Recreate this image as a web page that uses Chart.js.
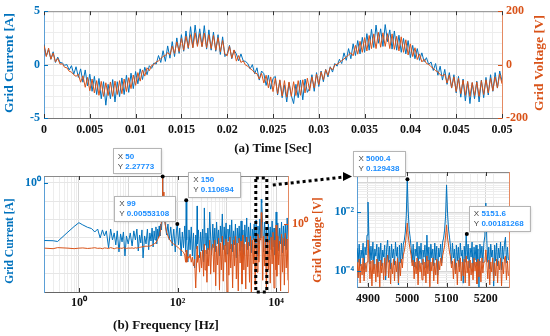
<!DOCTYPE html>
<html>
<head>
<meta charset="utf-8">
<script src="https://cdn.jsdelivr.net/npm/chart.js@4.4.0/dist/chart.umd.min.js"></script>
<style>
  html, body { margin: 0; padding: 0; background: #fff; }
  #wrap { position: relative; width: 550px; height: 336px; }
  #wrap canvas { position: absolute; left: 0; top: 0; }
</style>
</head>
<body>
<div id="wrap">
  <canvas id="timeChart" width="550" height="336"></canvas>
  <canvas id="specChart" width="550" height="336"></canvas>
  <canvas id="zoomChart" width="550" height="336"></canvas>
</div>
<script>
// (a) time domain, sampled every 0.25 ms from t = 0
const timeStepSec = 0.00025;
const gridCurrentA = [
  1.9, 0.8, 1.4, 0.5, 1.2, 0.2, 0.7, 0.2, 0.15, -0.06,
  0.0, -0.5, -0.1, -0.9, -0.2, -1.2, -0.4, -1.65, -0.5, -2.0,
  -0.9, -2.5, -1.1, -2.8, -1.3, -3.2, -1.6, -3.8, -1.85, -3.2,
  -1.4, -3.5, -1.6, -3.0, -1.25, -2.8, -1.0, -2.6, -0.8, -2.25,
  -0.65, -1.8, -0.4, -1.4, -0.25, -0.95, -0.1, -0.35, 0.15, 0.05,
  0.85, 0.2, 1.3, 0.3, 1.75, 0.6, 2.15, 0.75, 2.5, 1.05,
  2.8, 1.25, 3.15, 1.5, 3.55, 1.6, 3.7, 1.85, 3.35, 1.7,
  3.65, 1.45, 3.25, 1.35, 3.05, 1.25, 2.8, 0.95, 2.6, 0.75,
  1.0, 1.8, 0.55, 1.35, 1.0, 0.35, 1.0, 0.35, 0.3, 0.1,
  -0.4, 0.0, -0.85, -0.3, -1.45, -0.6, -0.85, -1.95, -1.0, -2.3,
  -1.3, -1.1, -2.85, -1.5, -3.1, -1.9, -3.5, -1.7, -2.9, -3.65,
  -1.85, -3.1, -1.45, -3.3, -1.35, -2.6, -2.2, -0.95, -2.5, -0.75,
  -2.05, -0.6, -1.6, -0.45, -1.15, -0.2, -0.7, 0.1, -0.15, 0.5,
  0.1, 1.1, 0.4, 1.5, 0.55, 1.95, 0.85, 2.25, 1.0, 2.55,
  1.15, 2.9, 1.35, 3.3, 1.6, 3.7, 2.0, 3.35, 1.7, 3.75,
  2.15, 3.25, 1.45, 3.15, 1.35, 2.75, 1.15, 2.45, 1.0, 2.25,
  0.65, 1.8, 0.55, 1.5, 0.4, 1.1, 0.27, 0.65, 0.0, 0.25,
  -0.55, 0.1, -1.0, -0.15, -1.45, -0.45, -1.85, -0.75, -2.2, -0.95,
  -2.65, -1.1, -3.05, -1.35, -3.4, -1.6, -3.65, -1.7, -3.2, -1.55,
  -3.5, -1.45, -3.1, -1.2, -2.85, -0.95, -2.5, -0.75, -2.2, -0.6,
  -1.55
];
const gridVoltageV = [
  72, 30, 62, 20, 43, 10, 23, 2, 3, -10,
  -12, -25, -28, -38, -44, -36, -66, -42, -85, -48,
  -98, -54, -106, -60, -115, -63, -119, -68, -116, -65,
  -119, -62, -112, -60, -109, -54, -101, -49, -90, -39,
  -78, -30, -62, -20, -43, -12, -23, -3, 0, 10,
  14, 22, 31, 34, 45, 36, 69, 42, 85, 49,
  98, 54, 106, 63, 112, 63, 119, 68, 116, 67,
  118, 63, 112, 60, 109, 54, 101, 48, 90, 39,
  33, 69, 24, 55, 13, 34, 8, 14, -2, -6,
  -15, -21, -31, -34, -54, -33, -69, -40, -87, -46,
  -101, -51, -109, -57, -118, -60, -122, -65, -119, -64,
  -116, -60, -115, -57, -106, -51, -98, -46, -87, -36,
  -75, -27, -57, -19, -40, -10, -20, -1, 1, 8,
  15, 21, 29, 36, 44, 33, 72, 39, 87, 46,
  101, 51, 109, 60, 115, 60, 121, 65, 119, 68,
  116, 60, 115, 57, 106, 51, 104, 46, 93, 36,
  78, 30, 63, 19, 40, 10, 20, 4, 1, -8,
  -14, -23, -27, -38, -42, -36, -69, -39, -87, -46,
  -101, -51, -109, -58, -115, -63, -119, -67, -116, -65,
  -119, -60, -112, -57, -106, -51, -98, -46, -87, -36,
  -72
];

// (b) spectrum, log frequency axis
const specFreqHz = [
  0.2, 0.3, 0.37, 0.6, 0.8, 1.0, 1.2, 1.5, 1.8, 2.1, 2.4, 2.7, 3.0, 3.3, 3.6, 4.0, 4.4, 4.8, 5.2, 5.6,
  6.0, 6.5, 7.0, 7.5, 8.0, 8.6, 9.2, 10,
  11, 12, 13, 14, 15, 16, 17, 18, 19, 20, 21.5, 23, 24.5, 26, 27.5, 29, 30.5, 32, 33.5, 35,
  36.5, 38, 39.5, 41, 42.5, 44, 45.5, 47, 48.5, 49.5, 50, 50.5,
  51, 53, 56, 60, 64, 68, 73, 78, 84, 90, 95, 99, 105, 111, 118, 125, 132, 140, 146, 150,
  154, 162, 171, 180, 190, 200, 211, 222, 234, 246, 250, 254, 266, 280, 294, 308, 323, 338, 350, 362,
  378, 395, 412, 430, 450, 470, 490,
  520, 545, 570, 595, 620, 650, 680, 710, 740, 775, 810, 845, 885, 925, 965, 1010, 1055, 1100, 1150, 1200,
  1255, 1310, 1370, 1430, 1495, 1560, 1630, 1705, 1780, 1860, 1945, 2030, 2120, 2215, 2315, 2420, 2530, 2645, 2760, 2885,
  3015, 3150, 3290, 3440, 3595, 3755, 3925, 4100, 4285, 4480, 4680, 4890, 5000, 5110, 5340, 5580, 5830, 6090, 6365, 6650,
  6950, 7260, 7590, 7930, 8285, 8660, 9050, 9455, 9880, 10000, 10325, 10790, 11275, 11780, 12310, 12865, 13445, 14050, 14680, 15340,
  16030, 16750, 17400
];
const specCurrentA = [
  6.8e-4, 6.6e-4, 6.0e-4, 2.0e-3, 4.0e-3, 6.5e-3, 4.9e-3, 3.6e-3, 3.1e-3, 2.0e-3, 2.9e-3, 9.4e-4, 2.6e-3, 1.21e-3, 2.3e-3, 2.7e-4, 2.9e-3, 7.3e-4, 1.77e-3, 3.9e-4,
  2.3e-3, 1.6e-4, 1.56e-3, 5.7e-4, 2.0e-3, 9.6e-5, 1.21e-3, 4.4e-4,
  1.77e-3, 3.4e-4, 2.3e-3, 7.3e-4, 2.9e-3, 1.8e-4, 1.37e-3, 5.0e-4, 2.6e-3, 7.5e-5, 1.21e-3, 4.4e-4, 2.9e-3, 2.1e-4, 1.77e-3, 6.4e-4, 3.3e-3, 3.0e-4, 2.3e-3, 7.3e-4,
  3.8e-3, 4.4e-4, 2.9e-3, 9.4e-4, 4.3e-3, 1.21e-3, 5.5e-3, 2.6e-3, 9.2e-3, 0.042, 2.27773, 0.061,
  0.042, 0.0152, 7.1e-3, 1.37e-3, 5.5e-3, 7.3e-4, 3.8e-3, 3.4e-4, 2.9e-3, 1.6e-4, 2.3e-3, 0.00553108, 3.9e-4, 3.3e-3, 9.6e-5, 2.0e-3, 2.7e-4, 4.3e-3, 1.6e-4, 0.110694,
  7.3e-4, 4.5e-5, 2.6e-3, 2.1e-4, 3.8e-3, 9.6e-5, 1.77e-3, 2.1e-5, 1.37e-3, 2.3e-4, 0.054, 4.4e-4, 2.6e-3, 7.5e-5, 2.0e-3, 1.8e-4, 2.9e-3, 4.5e-5, 0.042, 3.9e-4,
  1.77e-3, 1.24e-4, 3.3e-3, 2.1e-4, 0.0252, 9.4e-4, 1.1e-4,
  5.5e-3, 2.7e-4, 3.3e-3, 1.6e-4, 7.1e-3, 4.4e-4, 2.6e-3, 9.6e-5, 4.3e-3, 5.7e-4, 0.0196, 2.1e-4, 3.8e-3, 3.4e-4, 6.3e-3, 1.24e-4, 2.9e-3, 6.4e-4, 4.9e-3, 2.3e-4,
  9.2e-3, 1.6e-4, 2.3e-3, 3.9e-4, 5.5e-3, 7.5e-5, 3.3e-3, 5.0e-4, 4.3e-3, 1.8e-4, 8.1e-3, 3.0e-4, 2.6e-3, 1.1e-4, 4.9e-3, 5.7e-4, 0.0118, 2.1e-4, 3.8e-3, 3.4e-4,
  6.3e-3, 1.4e-4, 2.9e-3, 7.3e-4, 5.5e-3, 2.3e-4, 9.2e-3, 9.6e-5, 4.3e-3, 4.4e-4, 0.0104, 9.4e-4, 0.129, 0.08, 4.3e-3, 1.6e-4, 7.1e-3, 3.4e-4, 2.9e-3, 1.24e-4,
  5.5e-3, 5.0e-4, 3.8e-3, 2.1e-4, 8.1e-3, 3.0e-4, 3.3e-3, 1.1e-4, 4.9e-3, 0.0252, 6.4e-4, 6.3e-3, 1.8e-4, 3.3e-3, 4.4e-4, 7.1e-3, 1.4e-4, 4.3e-3, 3.4e-4, 5.5e-3,
  2.1e-4, 0.0118, 7.3e-4
];
const specVoltageV = [
  0.1, 0.095, 0.105, 0.1, 0.095, 0.1, 0.102, 0.097, 0.1, 0.104, 0.098, 0.1, 0.095, 0.102, 0.1, 0.097, 0.105, 0.1, 0.094, 0.1,
  0.103, 0.096, 0.1, 0.098, 0.104, 0.1, 0.097, 0.101,
  0.1, 0.102, 0.098, 0.104, 0.1, 0.105, 0.107, 0.11, 0.112, 0.115, 0.118, 0.121, 0.119, 0.123, 0.121, 0.127, 0.133, 0.14, 0.147, 0.162,
  0.178, 0.196, 0.23, 0.26, 0.32, 0.42, 0.62, 1.21, 3.8, 21.5, 90, 21.5,
  21.5, 3.16, 1.0, 0.46, 0.32, 0.24, 0.196, 0.162, 0.147, 0.133, 0.121, 0.115, 0.1, 0.091, 0.083, 0.075, 0.068, 0.051, 0.026, 0.083,
  0.026, 0.046, 0.038, 0.056, 0.026, 0.042, 0.018, 0.035, 0.0022, 0.046, 0.121, 0.026, 0.051, 0.01, 0.068, 0.015, 0.083, 0.0068, 0.147, 0.0124,
  0.083, 0.0038, 0.1, 0.018, 0.215, 0.0083, 0.083,
  0.147, 0.01, 0.215, 0.0027, 0.121, 0.02, 0.26, 0.0018, 0.162, 0.0124, 0.32, 0.0042, 0.133, 0.026, 0.24, 0.0015, 0.178, 0.0075, 0.29, 0.015,
  0.147, 0.0022, 0.215, 0.018, 0.32, 0.0052, 0.162, 0.00165, 0.26, 0.024, 0.196, 0.0032, 0.35, 0.0124, 0.147, 0.002, 0.29, 0.0167, 0.178, 0.0038,
  0.32, 0.0015, 0.215, 0.022, 0.26, 0.0029, 0.162, 0.01, 0.38, 0.026, 0.26, 0.215, 3.0, 1.21, 0.0046, 0.32, 0.018, 0.178, 0.0018, 0.35,
  0.0124, 0.215, 0.0035, 0.29, 0.022, 0.46, 0.0022, 0.215, 0.0124, 0.91, 0.0068, 0.32, 0.02, 0.196, 0.00165, 0.38, 0.01, 0.26, 0.0029, 0.42,
  0.015, 0.24, 0.0046
];
const specTipHz = [50, 99, 150];
const specTipAmp = [2.27773, 0.00553108, 0.110694];

// zoomed spectrum around 5 kHz, bins every 2.5 Hz
const zoomStartHz = 4872.5;
const zoomStepHz = 2.5;
const zoomCurrentA = [
  6.0e-4, 2.0e-4, 8.2e-4, 1.48e-4, 5.2e-4, 2.8e-4, 8.9e-4, 1.08e-4, 6.5e-4, 3.5e-4,
  1.66e-3, 0.0218, 1.31e-3, 1.73e-4, 7.0e-4, 2.36e-4, 9.6e-4, 1.26e-4, 5.6e-4, 3.2e-4,
  8.2e-4, 9.2e-5, 6.5e-4, 2.18e-4, 8.9e-4, 1.48e-4, 5.2e-4, 3.0e-4, 7.6e-4, 5.0e-5,
  6.0e-4, 1.12e-3, 2.0e-4, 7.0e-4, 1.17e-4, 8.2e-4, 2.8e-4, 5.6e-4, 1.6e-4, 9.6e-4,
  3.2e-4, 6.5e-4, 3.4e-5, 7.6e-4, 1.87e-4, 8.9e-4, 2.55e-4, 8.2e-4, 1.12e-3, 2.1e-3,
  7.9e-3, 0.129438, 0.01, 2.45e-3, 1.31e-3, 6.0e-4, 2.0e-4, 8.2e-4, 1.37e-4, 5.6e-4,
  3.2e-4, 9.6e-4, 1.08e-4, 7.0e-4, 2.55e-4, 8.9e-4, 1.73e-4, 5.2e-4, 3.0e-4, 7.6e-4,
  1.26e-4, 1.66e-3, 2.18e-4, 6.5e-4, 1.0e-4, 8.2e-4, 2.8e-4, 5.6e-4, 1.48e-4, 8.9e-4,
  2.36e-4, 7.0e-4, 7.3e-5, 6.0e-4, 3.0e-4, 8.2e-4, 1.87e-4, 9.6e-4, 1.31e-3, 2.45e-3,
  7.3e-3, 0.082, 9.2e-3, 2.65e-3, 1.42e-3, 7.0e-4, 1.73e-4, 8.9e-4, 2.8e-4, 5.6e-4,
  1.08e-4, 7.6e-4, 2.18e-4, 6.5e-4, 1.37e-4, 8.9e-4, 3.2e-4, 5.2e-4, 3.9e-5, 7.0e-4,
  2.0e-4, 1.81e-3, 2.55e-4, 8.2e-4, 1.26e-4, 6.0e-4, 3.0e-4, 9.6e-4, 9.2e-5, 6.5e-4,
  2.36e-4, 7.6e-4, 1.48e-4, 5.6e-4, 2.9e-5, 8.2e-4, 2.8e-4, 7.0e-4, 1.87e-4, 8.9e-4,
  1.54e-3, 0.0202, 1.12e-3, 2.0e-4, 6.5e-4, 1.17e-4, 8.2e-4, 3.0e-4, 5.2e-4, 3.1e-5,
  7.6e-4, 2.18e-4, 8.9e-4, 1.48e-4, 6.0e-4, 2.8e-4, 9.6e-4, 1.08e-4, 7.0e-4, 2.55e-4,
  8.2e-4, 1.42e-3, 1.87e-4, 6.5e-4, 2.36e-4
];
const zoomVoltageV = [
  0.060, 0.0173, 0.076, 0.0117, 0.0515, 0.0218, 0.082, 0.0137, 0.0557, 0.0276,
  0.060, 0.335, 0.082, 0.016, 0.065, 0.0092, 0.070, 0.0236, 0.0515, 0.0126,
  0.076, 0.0187, 0.060, 0.0086, 0.070, 0.0255, 0.0557, 0.0148, 0.082, 0.0202,
  0.060, 0.104, 0.0173, 0.070, 0.0108, 0.0557, 0.0236, 0.076, 0.0137, 0.065,
  0.0276, 0.082, 0.0117, 0.060, 0.0202, 0.076, 0.0377, 0.104, 0.142, 0.227,
  0.495, 1.26, 0.458, 0.245, 0.154, 0.096, 0.044, 0.070, 0.016, 0.060,
  0.0236, 0.082, 0.010, 0.065, 0.0276, 0.0557, 0.0148, 0.076, 0.0202, 0.060,
  0.0117, 0.096, 0.0236, 0.070, 0.0086, 0.060, 0.0298, 0.082, 0.0137, 0.0557,
  0.0218, 0.076, 0.0108, 0.065, 0.0322, 0.082, 0.044, 0.096, 0.142, 0.21,
  0.458, 1.08, 0.392, 0.227, 0.131, 0.089, 0.0377, 0.065, 0.016, 0.076,
  0.0236, 0.0557, 0.010, 0.070, 0.0276, 0.082, 0.0137, 0.060, 0.0202, 0.076,
  0.0117, 0.096, 0.0255, 0.065, 0.0092, 0.070, 0.0218, 0.0557, 0.0148, 0.082,
  0.0298, 0.060, 0.0108, 0.076, 0.0187, 0.065, 0.0126, 0.082, 0.0255, 0.060,
  0.060, 0.154, 0.0557, 0.016, 0.070, 0.010, 0.060, 0.0276, 0.082, 0.0137,
  0.0557, 0.0202, 0.076, 0.0117, 0.065, 0.0322, 0.082, 0.0092, 0.060, 0.0236,
  0.076, 0.096, 0.0148, 0.065, 0.0202
];
const zoomTipHz = [5000.4, 5151.6];
const zoomTipAmp = [0.129438, 0.00181268];
const zoomCenterHz = 5000;

const SERIF = "'Liberation Serif', 'Times New Roman', serif";
const SANS = "'Liberation Sans', Arial, sans-serif";
const BLUE = '#0072BD';
const ORANGE = '#D95319';
const GRID_MAJOR = '#d6d6d6';
const GRID_MINOR = '#ededed';

Chart.defaults.font.family = SERIF;
Chart.defaults.font.weight = 'bold';
Chart.defaults.font.size = 12;
Chart.defaults.color = '#111';

const isStep = (v, s) => Math.abs(v / s - Math.round(v / s)) < 1e-6;
const isDecade = v => Math.abs(Math.log10(v) - Math.round(Math.log10(v))) < 1e-9;
const SUP = { '-': '⁻', '0': '⁰', '1': '¹', '2': '²', '3': '³', '4': '⁴', '5': '⁵', '6': '⁶' };
const pow10Label = v => '10' + String(Math.round(Math.log10(v))).split('').map(c => SUP[c]).join('');
const intLabel = v => String(Math.round(v) || 0);

function logTicks(lo, hi, decadesOnly) {
  const out = [];
  for (let e = -7; e <= 5; e++) {
    for (let m = 1; m <= 9; m++) {
      if (decadesOnly && m > 1) continue;
      const v = m * Math.pow(10, e);
      if (v >= lo * 0.999 && v <= hi * 1.001) out.push({ value: v });
    }
  }
  return out;
}

// y-axis titles read bottom to top on both sides
const sideTitles = {
  id: 'sideTitles',
  afterDraw(chart, args, o) {
    const ctx = chart.ctx;
    (o.items || []).forEach(it => {
      ctx.save();
      ctx.translate(it.x, it.y);
      ctx.rotate(-Math.PI / 2);
      ctx.font = 'bold ' + it.size + 'px ' + SERIF;
      ctx.fillStyle = it.color;
      ctx.textAlign = 'center';
      ctx.textBaseline = 'middle';
      ctx.fillText(it.text, 0, 0);
      ctx.restore();
    });
  }
};

// top border line and inward ticks at labelled positions
const frame = {
  id: 'frame',
  afterDatasetsDraw(chart) {
    const { ctx, chartArea: a } = chart;
    ctx.save();
    ctx.lineWidth = 1;
    ctx.strokeStyle = '#8a8a8a';
    ctx.beginPath();
    ctx.moveTo(a.left, a.top + 0.5);
    ctx.lineTo(a.right, a.top + 0.5);
    ctx.stroke();
    ctx.strokeStyle = '#333';
    const xs = chart.scales.x;
    ctx.beginPath();
    xs.ticks.forEach(t => {
      if (!t.label) return;
      const x = Math.round(xs.getPixelForValue(t.value)) + 0.5;
      ctx.moveTo(x, a.bottom); ctx.lineTo(x, a.bottom - 4);
      ctx.moveTo(x, a.top); ctx.lineTo(x, a.top + 4);
    });
    ctx.stroke();
    ['yI', 'yV'].forEach(id => {
      const s = chart.scales[id];
      if (!s) return;
      ctx.strokeStyle = id === 'yI' ? BLUE : ORANGE;
      ctx.beginPath();
      s.ticks.forEach(t => {
        if (!t.label) return;
        const y = Math.round(s.getPixelForValue(t.value)) + 0.5;
        if (id === 'yI') { ctx.moveTo(a.left, y); ctx.lineTo(a.left + 4, y); }
        else { ctx.moveTo(a.right, y); ctx.lineTo(a.right - 4, y); }
      });
      ctx.stroke();
    });
    ctx.restore();
  }
};

// MATLAB style data tips
const dataTips = {
  id: 'dataTips',
  afterDraw(chart, args, o) {
    const ctx = chart.ctx;
    (o.tips || []).forEach(t => {
      const px = chart.scales.x.getPixelForValue(t.x);
      const py = chart.scales.yI.getPixelForValue(t.y);
      const xs = String(t.x), ys = String(t.y);
      ctx.save();
      ctx.font = '8px ' + SANS;
      const w = Math.ceil(Math.max(ctx.measureText('X ' + xs).width, ctx.measureText('Y ' + ys).width)) + 11;
      const h = 25;
      const bx = t.side === 'left' ? px - 2 - w : px + 2;
      const by = py - 3 - h;
      ctx.shadowColor = 'rgba(0,0,0,0.25)';
      ctx.shadowBlur = 3;
      ctx.shadowOffsetX = 1;
      ctx.shadowOffsetY = 1;
      ctx.fillStyle = '#fff';
      ctx.fillRect(bx, by, w, h);
      ctx.shadowColor = 'transparent';
      ctx.strokeStyle = '#b5b5b5';
      ctx.lineWidth = 1;
      ctx.strokeRect(Math.round(bx) + 0.5, Math.round(by) + 0.5, w, h);
      ctx.textBaseline = 'middle';
      const tx = bx + 5;
      ctx.fillStyle = '#444';
      ctx.fillText('X', tx, by + 8);
      ctx.fillText('Y', tx, by + 18);
      const off = ctx.measureText('X ').width;
      ctx.font = 'bold 8px ' + SANS;
      ctx.fillStyle = '#1a8cff';
      ctx.fillText(xs, tx + off, by + 8);
      ctx.fillText(ys, tx + off, by + 18);
      ctx.fillStyle = '#000';
      ctx.beginPath();
      ctx.arc(px, py, 2, 0, Math.PI * 2);
      ctx.fill();
      ctx.restore();
    });
  }
};

// dotted box around the zoomed band and the arrow to the right panel
const zoomMark = {
  id: 'zoomMark',
  afterDraw(chart) {
    const { ctx, chartArea: a } = chart;
    const cx = chart.scales.x.getPixelForValue(zoomCenterHz);
    const l = cx - 5.5, r = cx + 5.5;
    ctx.save();
    ctx.strokeStyle = '#000';
    ctx.fillStyle = '#000';
    ctx.lineWidth = 3;
    ctx.setLineDash([3, 3]);
    ctx.strokeRect(l, a.top + 2, r - l, a.bottom - a.top - 2);
    ctx.beginPath();
    ctx.moveTo(r + 6, a.top + 9);
    ctx.lineTo(344, 177);
    ctx.stroke();
    ctx.setLineDash([]);
    ctx.beginPath();
    ctx.moveTo(352, 176.5);
    ctx.lineTo(343, 172);
    ctx.lineTo(343, 181);
    ctx.closePath();
    ctx.fill();
    ctx.restore();
  }
};

const base = {
  responsive: false,
  animation: false,
  events: [],
  elements: { point: { radius: 0 }, line: { borderWidth: 1, tension: 0 } }
};

// ---- (a) time domain ----
new Chart(document.getElementById('timeChart'), {
  type: 'line',
  data: {
    datasets: [
      { data: gridVoltageV.map((v, i) => ({ x: i * timeStepSec, y: v })), yAxisID: 'yV', borderColor: ORANGE, order: 1 },
      { data: gridCurrentA.map((v, i) => ({ x: i * timeStepSec, y: v })), yAxisID: 'yI', borderColor: BLUE, order: 2 }
    ]
  },
  options: Object.assign({}, base, {
    layout: { padding: { top: 9, bottom: 178, left: 0, right: 0 } },
    plugins: {
      legend: { display: false },
      tooltip: { enabled: false },
      sideTitles: { items: [
        { text: 'Grid Current [A]', x: 10, y: 63, size: 13.5, color: BLUE },
        { text: 'Grid Voltage [V]', x: 540, y: 63, size: 13.5, color: ORANGE }
      ] }
    },
    scales: {
      x: {
        type: 'linear', min: 0, max: 0.05,
        ticks: { stepSize: 0.001, autoSkip: false, maxRotation: 0, padding: 5, color: '#111',
          callback: v => isStep(v, 0.005) ? String(+v.toFixed(3)) : '' },
        grid: { drawTicks: false, color: c => isStep(c.tick.value, 0.005) ? GRID_MAJOR : GRID_MINOR },
        border: { color: '#777' },
        title: { display: true, text: '(a) Time [Sec]', font: { size: 13, weight: 'bold' }, color: '#111', padding: { top: 0, bottom: 2 } },
        afterFit: s => { s.height = 40; }
      },
      yI: {
        position: 'left', min: -5, max: 5,
        ticks: { stepSize: 1, autoSkip: false, padding: 4, color: BLUE, callback: v => isStep(v, 5) ? intLabel(v) : '' },
        grid: { drawTicks: false, color: c => Math.abs(c.tick.value) < 1e-9 ? GRID_MAJOR : GRID_MINOR },
        border: { color: '#5b9fd6' },
        afterFit: s => { s.width = 44; }
      },
      yV: {
        position: 'right', min: -200, max: 200,
        ticks: { stepSize: 200, autoSkip: false, padding: 4, color: ORANGE, callback: v => intLabel(v) },
        grid: { drawOnChartArea: false, drawTicks: false },
        border: { color: '#e58a62' },
        afterFit: s => { s.width = 48; }
      }
    }
  }),
  plugins: [frame, sideTitles]
});

// ---- (b) spectrum ----
new Chart(document.getElementById('specChart'), {
  type: 'line',
  data: {
    datasets: [
      { data: specVoltageV.map((v, i) => ({ x: specFreqHz[i], y: v })), yAxisID: 'yV', borderColor: ORANGE, order: 1 },
      { data: specCurrentA.map((v, i) => ({ x: specFreqHz[i], y: v })), yAxisID: 'yI', borderColor: BLUE, order: 2 }
    ]
  },
  options: Object.assign({}, base, {
    layout: { padding: { top: 176, bottom: 0, left: 0, right: 222 } },
    plugins: {
      legend: { display: false },
      tooltip: { enabled: false },
      sideTitles: { items: [
        { text: 'Grid Current [A]', x: 10, y: 241, size: 11.5, color: BLUE },
        { text: 'Grid Voltage [V]', x: 318, y: 240, size: 12, color: ORANGE }
      ] },
      dataTips: { tips: specTipHz.map((f, i) => ({ x: f, y: specTipAmp[i], side: i === 2 ? 'right' : 'left' })) }
    },
    scales: {
      x: {
        type: 'logarithmic', min: 0.196, max: 17400,
        afterBuildTicks: s => { s.ticks = logTicks(0.196, 17400, false); },
        ticks: { autoSkip: false, maxRotation: 0, padding: 4, color: '#111',
          callback: v => (v === 1 || v === 100 || v === 10000) ? pow10Label(v) : '' },
        grid: { drawTicks: false, color: c => isDecade(c.tick.value) ? GRID_MAJOR : GRID_MINOR },
        border: { color: '#666' },
        title: { display: true, text: '(b) Frequency [Hz]', font: { size: 13, weight: 'bold' }, color: '#111', padding: { top: 0, bottom: 3 } },
        afterFit: s => { s.height = 44; }
      },
      yI: {
        type: 'logarithmic', position: 'left', min: 1e-6, max: 2.4,
        afterBuildTicks: s => { s.ticks = logTicks(1e-6, 2.4, true); },
        ticks: { autoSkip: false, padding: 3, color: BLUE, callback: v => v === 1 ? pow10Label(v) : '' },
        grid: { drawTicks: false, color: '#e6e6e6' },
        border: { color: '#5b9fd6' },
        afterFit: s => { s.width = 44; }
      },
      yV: {
        type: 'logarithmic', position: 'right', min: 0.0015, max: 100,
        afterBuildTicks: s => { s.ticks = [{ value: 1 }]; },
        ticks: { autoSkip: false, padding: 4, color: ORANGE, callback: v => pow10Label(v) },
        grid: { drawOnChartArea: false, drawTicks: false },
        border: { color: '#e58a62' },
        afterFit: s => { s.width = 40; }
      }
    }
  }),
  plugins: [frame, sideTitles, zoomMark, dataTips]
});

// ---- zoom around 5 kHz ----
new Chart(document.getElementById('zoomChart'), {
  type: 'line',
  data: {
    datasets: [
      { data: zoomVoltageV.map((v, i) => ({ x: zoomStartHz + i * zoomStepHz, y: v })), yAxisID: 'yV', borderColor: ORANGE, order: 1 },
      { data: zoomCurrentA.map((v, i) => ({ x: zoomStartHz + i * zoomStepHz, y: v })), yAxisID: 'yI', borderColor: BLUE, order: 2 }
    ]
  },
  options: Object.assign({}, base, {
    layout: { padding: { top: 172, bottom: 29, left: 327, right: 11 } },
    plugins: {
      legend: { display: false },
      tooltip: { enabled: false },
      dataTips: { tips: zoomTipHz.map((f, i) => ({ x: f, y: zoomTipAmp[i], side: i === 0 ? 'left' : 'right' })) }
    },
    scales: {
      x: {
        type: 'linear', min: 4872, max: 5259,
        ticks: { stepSize: 20, autoSkip: false, maxRotation: 0, padding: 5, color: '#111',
          callback: v => v % 100 === 0 ? String(v) : '' },
        grid: { drawTicks: false, color: c => c.tick.value % 100 === 0 ? GRID_MAJOR : GRID_MINOR },
        border: { color: '#666' },
        afterFit: s => { s.height = 20; }
      },
      yI: {
        type: 'logarithmic', position: 'left', min: 2.9e-5, max: 0.227,
        afterBuildTicks: s => { s.ticks = logTicks(2.9e-5, 0.227, false); },
        ticks: { autoSkip: false, padding: 3, color: BLUE,
          callback: v => (isDecade(v) && (Math.round(Math.log10(v)) === -2 || Math.round(Math.log10(v)) === -4)) ? pow10Label(v) : '' },
        grid: { drawTicks: false, color: c => isDecade(c.tick.value) ? GRID_MAJOR : GRID_MINOR },
        border: { color: '#5b9fd6' },
        afterFit: s => { s.width = 30; }
      },
      yV: {
        type: 'logarithmic', position: 'right', min: 0.0085, max: 67.7,
        afterBuildTicks: s => { s.ticks = [{ value: 1 }]; },
        ticks: { autoSkip: false, padding: 4, color: ORANGE, callback: v => pow10Label(v) },
        grid: { drawOnChartArea: false, drawTicks: false },
        border: { color: '#e58a62' },
        afterFit: s => { s.width = 30; }
      }
    }
  }),
  plugins: [frame, dataTips]
});
</script>
</body>
</html>
